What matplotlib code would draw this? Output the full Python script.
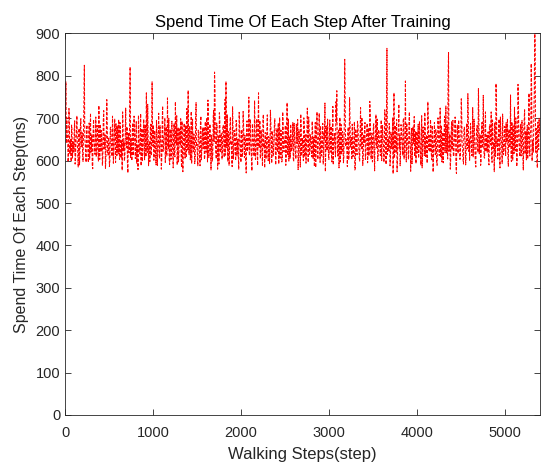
import numpy as np
from matplotlib import pyplot as plt

# spend time per step (ms), every 10 steps (steps 0, 10, 20, ...)
spend_ms_a = [
    780, 786, 702, 655, 612, 688, 630, 598, 671, 645, 620, 694, 608, 660, 637, 585, 676, 622, 699, 641,
    617, 663, 825, 640, 596, 684, 628, 657, 603, 712, 634, 590, 669, 648, 615, 703, 626, 672, 599, 651,
    686, 621, 644, 607, 718, 636, 582, 662, 690, 613, 647, 601, 679, 626, 705, 594, 658, 633, 687, 612,
    640, 697, 603, 668, 622, 577, 681, 645, 610, 724, 631, 593, 664, 618, 821, 652, 600, 689, 627, 661,
    605, 692, 638, 579, 674, 616, 711, 643, 598, 665, 624, 684, 609, 653, 733, 588, 646, 677, 612, 786,
    634, 601, 671, 625, 695, 589, 657, 618, 683, 641, 604, 729, 630, 662, 596, 680, 613, 649, 700, 591,
    667, 620, 642, 583, 688, 609, 654, 706, 628, 597, 675, 636, 614, 693, 574, 659, 624, 682, 607, 646,
    766, 615, 670, 632, 593, 698, 621, 651, 606, 737, 639, 588, 668, 617, 690, 602, 656, 629, 679, 611,
    645, 701, 597, 663, 623, 686, 578, 652, 612, 720, 809, 634, 604, 675, 640, 592, 694, 619, 658, 627,
    683, 608, 745, 787, 631, 598, 669, 614, 703, 644, 586, 677, 622, 657, 600, 691, 635, 612, 714, 639,
    596, 667, 624, 684, 607, 650, 571, 694, 633, 750, 618, 662, 602, 687, 643, 610, 678, 626, 699, 589,
    760, 637, 605, 672, 619, 695, 631, 583, 666, 641, 708, 600, 654, 625, 689, 594, 660, 616, 681, 636,
    609, 676, 648, 592, 702, 627, 659, 603, 684, 621, 645, 589, 671, 613, 698, 634, 606, 665, 629, 690,
    598, 657, 618, 686, 640, 579, 673, 623, 710, 611, 652, 600, 680, 632, 594, 668, 645, 703, 615, 661,
    627, 693, 604, 655, 638, 584, 676, 620, 647, 712, 596, 664, 630, 688, 609, 651, 574, 682, 624, 658,
    603, 696, 636, 615, 670, 590, 651, 628, 739, 765, 611, 674, 642, 597, 685, 622, 660, 607, 839, 633,
    648, 586, 679, 617, 701, 640, 602, 663, 625, 692, 581, 656, 614, 683, 637, 599, 725, 628, 669, 606,
    643, 690, 612, 659, 595, 677, 631, 706, 604, 664, 620, 687, 576, 650, 638, 698, 609, 671, 626, 655,
    600, 683, 634, 616, 709, 591, 865, 646, 623, 678, 605, 661, 639, 569, 760, 618, 655, 697, 608, 672,
    629, 588, 685, 651, 612, 700, 637, 788, 597, 664, 620, 689, 643, 575, 676, 615, 658, 704, 631, 593,
    669, 641, 606, 693, 624, 652, 583, 680, 635, 714, 610, 661, 598, 687, 647, 620, 675, 602, 656, 636,
    690, 614, 667, 589, 701, 628, 653, 608, 683, 642, 595, 674, 619, 729, 633, 604, 855, 648, 580, 662,
    625, 695, 611, 658, 638, 570, 684, 617, 671, 603, 650, 707, 629, 592, 679, 640, 613, 666, 758, 622,
    601, 688, 635, 656, 609, 698, 624, 585, 673, 645, 770, 616, 662, 597, 690, 632, 651, 606, 715, 639,
    620, 668, 590, 685, 643, 611, 696, 628, 574, 659, 782, 634, 604, 677, 618, 703, 646, 593, 664, 627,
    681, 612, 655, 699, 587, 672, 637, 619, 692, 601, 648, 726, 623, 665, 596, 780, 641, 610, 686, 630,
    657, 578, 694, 615, 670, 639, 604, 688, 626, 661, 829, 599, 645, 713, 905, 620, 676, 583, 652, 700,
]
# in-between readings (steps 5, 15, 25, ...)
spend_ms_b = [
    702, 641, 668, 597, 723, 615, 650, 684, 606, 639, 673, 592, 657, 706, 624, 648, 590, 681, 633, 666,
    598, 740, 652, 613, 676, 631, 596, 689, 644, 620, 662, 581, 697, 637, 654, 609, 683, 618, 730, 603,
    647, 671, 589, 692, 628, 661, 604, 744, 619, 655, 586, 677, 640, 610, 668, 627, 699, 596, 652, 682,
    616, 653, 690, 606, 647, 715, 624, 599, 663, 638, 680, 571, 649, 696, 607, 635, 671, 612, 705, 643,
    661, 594, 635, 707, 620, 651, 588, 676, 629, 698, 602, 643, 760, 619, 667, 636, 598, 686, 641, 655,
    684, 613, 646, 590, 669, 631, 712, 605, 652, 580, 692, 622, 657, 701, 637, 611, 748, 629, 601, 674,
    603, 693, 625, 664, 612, 739, 638, 590, 679, 616, 653, 699, 584, 644, 628, 688, 606, 660, 723, 625,
    641, 680, 602, 716, 651, 626, 663, 593, 697, 634, 612, 672, 646, 588, 705, 623, 678, 640, 603, 692,
    620, 654, 743, 607, 686, 631, 660, 598, 703, 645, 770, 617, 689, 580, 658, 713, 629, 665, 603, 684,
    654, 692, 613, 650, 708, 628, 589, 681, 640, 618, 727, 604, 672, 633, 695, 611, 650, 579, 686, 624,
    673, 608, 716, 639, 660, 595, 688, 622, 655, 612, 698, 634, 576, 669, 621, 742, 603, 650, 616, 681,
    631, 695, 615, 652, 587, 709, 640, 666, 604, 683, 625, 657, 593, 719, 635, 670, 611, 648, 699, 590,
    662, 620, 689, 638, 606, 672, 597, 715, 629, 650, 683, 612, 737, 642, 599, 658, 686, 623, 649, 605,
    688, 633, 604, 664, 697, 615, 650, 585, 679, 645, 628, 701, 609, 661, 638, 724, 596, 676, 620, 649,
    609, 671, 640, 586, 690, 627, 715, 603, 662, 633, 682, 611, 649, 592, 668, 736, 622, 641, 698, 614,
    654, 620, 681, 597, 728, 638, 664, 609, 691, 630, 657, 583, 702, 644, 616, 669, 595, 687, 732, 651,
    619, 667, 602, 749, 631, 656, 686, 610, 643, 578, 675, 625, 693, 651, 607, 664, 634, 702, 589, 660,
    676, 603, 654, 688, 624, 611, 740, 643, 665, 597, 681, 619, 652, 709, 630, 600, 673, 644, 612, 696,
    635, 661, 596, 720, 640, 679, 614, 653, 688, 588, 667, 629, 702, 645, 606, 683, 621, 574, 664, 733,
    660, 616, 672, 634, 699, 604, 651, 625, 689, 647, 603, 715, 632, 661, 593, 680, 640, 610, 668, 652,
    618, 686, 627, 650, 590, 706, 636, 664, 612, 676, 648, 594, 739, 625, 659, 697, 614, 683, 573, 645,
    629, 673, 599, 648, 682, 612, 724, 640, 597, 667, 631, 705, 651, 618, 685, 790, 622, 663, 604, 693,
    667, 610, 641, 703, 586, 663, 627, 696, 645, 617, 746, 636, 602, 671, 655, 590, 688, 628, 693, 651,
    640, 656, 612, 725, 630, 671, 598, 650, 683, 619, 702, 644, 589, 665, 630, 754, 608, 676, 621, 660,
    652, 601, 680, 637, 715, 596, 662, 641, 689, 610, 736, 653, 624, 698, 583, 667, 635, 710, 614, 650,
    624, 690, 643, 609, 674, 631, 755, 598, 660, 682, 617, 645, 701, 586, 654, 732, 629, 671, 611, 695,
    612, 667, 720, 640, 602, 684, 633, 759, 611, 676, 770, 648, 620, 760, 880, 638, 598, 691, 626, 664,
]

x_ticks = [0, 1000, 2000, 3000, 4000, 5000]
y_ticks = [0, 100, 200, 300, 400, 500, 600, 700, 800, 900]

# merge the two readings into one series ordered by step
steps = np.concatenate([np.arange(len(spend_ms_a)) * 10, np.arange(len(spend_ms_b)) * 10 + 5])
spend = np.concatenate([spend_ms_a, spend_ms_b])
order = np.argsort(steps)
steps, spend = steps[order], spend[order]

plt.rcParams['font.family'] = ['Liberation Sans', 'DejaVu Sans']
txt = '#262626'

fig = plt.figure(figsize=(5.41, 4.63), dpi=100)
ax = fig.add_axes([65/541, 48/463, 475/541, 381.5/463])
ax.plot(steps, spend, color='#ff0000', lw=0.75, ls=(0, (3, 1.5)))

ax.set_xlim(0, 5400)
ax.set_ylim(0, 900)
ax.set_xticks(x_ticks)
ax.set_yticks(y_ticks)
ax.tick_params(direction='in', top=True, right=True, labelsize=10.5, colors=txt, length=4, width=0.6)
ax.tick_params(axis='x', pad=8)
for s in ax.spines.values():
    s.set_color(txt)
    s.set_linewidth(0.6)

ax.set_title('Spend Time Of Each Step After Training', fontsize=12, color='black', pad=5)
ax.set_xlabel('Walking Steps(step)', fontsize=12, color=txt, labelpad=5)
ax.set_ylabel('Spend Time Of Each Step(ms)', fontsize=11.5, color=txt, labelpad=5)

fig.savefig('out.png', dpi=100)
